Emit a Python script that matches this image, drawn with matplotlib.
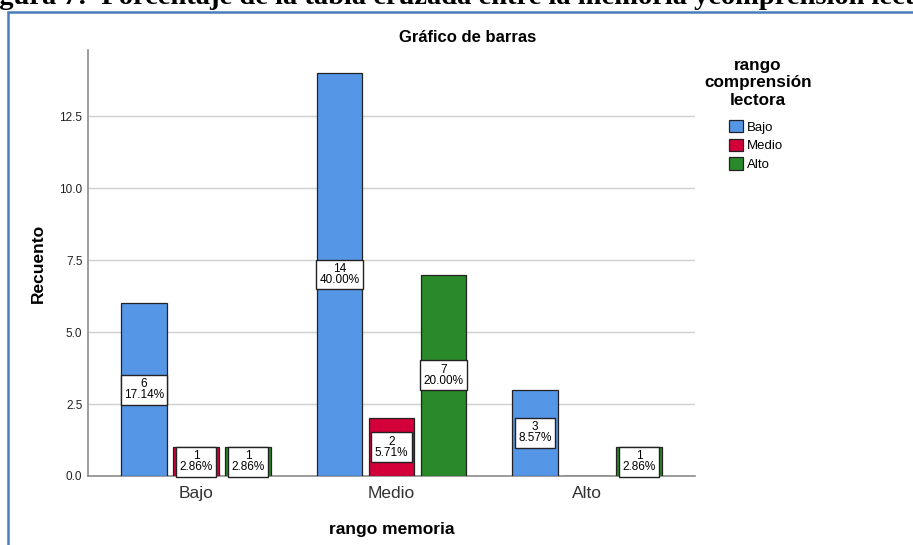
import numpy as np
import matplotlib.pyplot as plt
from matplotlib.patches import Rectangle, Patch

plt.rcParams['font.family'] = ['Liberation Sans', 'DejaVu Sans']

# data
memoria = ['Bajo', 'Medio', 'Alto']
comprension = ['Bajo', 'Medio', 'Alto']
cnt_bajo = [6, 14, 3]
cnt_medio = [1, 2, 0]
cnt_alto = [1, 7, 1]
pct_bajo = ['17.14%', '40.00%', '8.57%']
pct_medio = ['2.86%', '5.71%', '']
pct_alto = ['2.86%', '20.00%', '2.86%']
yticks = [0.0, 2.5, 5.0, 7.5, 10.0, 12.5]

colors = ['#5596e6', '#d4003a', '#2a8a2a']

W, H = 913, 545
fig = plt.figure(figsize=(W / 100, H / 100), dpi=100)

# caption, cut at the top of the page
fig.text(-26 / W, 1 - 4.5 / H, 'Figura 7:  Porcentaje de la tabla cruzada entre la memoria ycomprensión lectora',
         family=['Liberation Serif', 'DejaVu Serif'], fontsize=20.5, fontweight='bold',
         ha='left', va='baseline')

# blue frame round the chart
fig.add_artist(Rectangle((8 / W, -0.05), 1.0, 1 - 12 / H + 0.05, transform=fig.transFigure,
                         fill=False, ec='#4a7ebb', lw=1.8))

ax = fig.add_axes([88 / W, 1 - 476 / H, (695 - 88) / W, (476 - 50) / H])

x = np.arange(len(memoria))
w = 0.235
off = 0.266
series = [(cnt_bajo, pct_bajo), (cnt_medio, pct_medio), (cnt_alto, pct_alto)]
for i, (cnt, pct) in enumerate(series):
    xs = x + (i - 1) * off
    ax.bar(xs, cnt, width=w, color=colors[i], edgecolor='#222222', linewidth=0.9, zorder=3)
    for xi, c, p in zip(xs, cnt, pct):
        if c == 0:
            continue
        ax.text(xi, c / 2, f'{c}\n{p}', ha='center', va='center', fontsize=8.5, linespacing=0.92,
                zorder=4, bbox=dict(boxstyle='square,pad=0.28', fc='white', ec='#222222', lw=1))

ax.set_xlim(-0.552, 2.552)
ax.set_ylim(0, 14.8)
ax.set_yticks(yticks)
ax.set_yticklabels([f'{v:.1f}' for v in yticks], fontsize=8.5, color='#222222')
ax.set_xticks(x)
ax.set_xticklabels(memoria, fontsize=12.5, color='#333333')
ax.tick_params(length=0)
ax.tick_params(axis='x', pad=7)
ax.tick_params(axis='y', pad=4)
ax.grid(axis='y', color='#d0d0d0', lw=1, zorder=0)
for s in ['top', 'right']:
    ax.spines[s].set_visible(False)
for s in ['left', 'bottom']:
    ax.spines[s].set_color('#8c8c8c')
    ax.spines[s].set_linewidth(1.2)

ax.set_xlabel('rango memoria', fontsize=12.5, fontweight='bold', labelpad=15)
ax.set_ylabel('Recuento', fontsize=12.5, fontweight='bold', labelpad=10)
ax.set_title('Gráfico de barras', fontsize=12, fontweight='bold', pad=6, x=0.625)

# legend: title centred, entries below
fig.text(758 / W, 1 - 58 / H, 'rango\ncomprensión\nlectora', ha='center', va='top', ma='center',
         fontsize=12.3, fontweight='bold', linespacing=1.2)
handles = [Patch(facecolor=colors[i], edgecolor='#222222', lw=0.9, label=comprension[i]) for i in range(3)]
fig.legend(handles=handles, loc='upper left', bbox_to_anchor=(729 / W, 1 - 120 / H), frameon=False,
           fontsize=9.5, handlelength=1.06, handleheight=1.06, handletextpad=0.3, labelspacing=0.38,
           borderpad=0, borderaxespad=0)

fig.savefig('out.png', dpi=100)
